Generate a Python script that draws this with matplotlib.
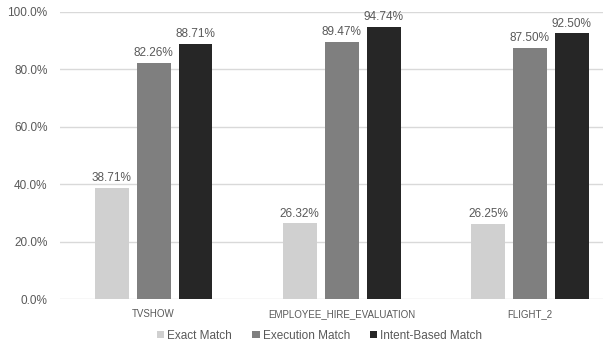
import numpy as np
import matplotlib.pyplot as plt
from matplotlib.ticker import FuncFormatter

categories = ['TVSHOW', 'EMPLOYEE_HIRE_EVALUATION', 'FLIGHT_2']
exact_match = [38.71, 26.32, 26.25]
execution_match = [82.26, 89.47, 87.50]
intent_match = [88.71, 94.74, 92.50]
series_names = ['Exact Match', 'Execution Match', 'Intent-Based Match']
colors = ['#d0d0d0', '#7f7f7f', '#262626']

plt.rcParams['font.family'] = ['Liberation Sans', 'DejaVu Sans']
txt = '#595959'

fig = plt.figure(figsize=(6.03, 3.45), dpi=100)
# the plot area runs past the right edge, as in the reference
ax = fig.add_axes([0.0987, 0.1333, 0.936, 0.832])

x = np.arange(len(categories))
w = 0.18
step = 0.223
for i, (vals, name, c) in enumerate(zip([exact_match, execution_match, intent_match], series_names, colors)):
    pos = x + (i - 1) * step
    bars = ax.bar(pos, vals, width=w, color=c, label=name, zorder=3)
    for b, v in zip(bars, vals):
        ax.text(b.get_x() + b.get_width() / 2, v + 2.4, f'{v:.2f}%', ha='center', va='baseline',
                fontsize=8.5, color=txt)

ax.set_xlim(-0.5, 2.5)
ax.set_ylim(0, 100)
ax.set_yticks(np.arange(0, 101, 20))
ax.yaxis.set_major_formatter(FuncFormatter(lambda v, p: f'{v:.1f}%'))
ax.set_xticks(x)
ax.set_xticklabels(categories)
ax.tick_params(axis='y', length=0, labelsize=8.5, colors=txt, pad=8.6)
ax.tick_params(axis='x', length=0, labelsize=7, colors=txt, pad=7)
ax.grid(axis='y', color='#d9d9d9', linewidth=1.0, zorder=0)
for s in ax.spines.values():
    s.set_visible(False)

fig.legend(*ax.get_legend_handles_labels(), loc='center', bbox_to_anchor=(319.5 / 603, 1 - 335.7 / 345),
           ncol=3, frameon=False, fontsize=8.5, labelcolor=txt, handlelength=0.64, handleheight=0.64,
           handletextpad=0.25, columnspacing=1.7, borderpad=0)

fig.savefig('out.png', dpi=100)
